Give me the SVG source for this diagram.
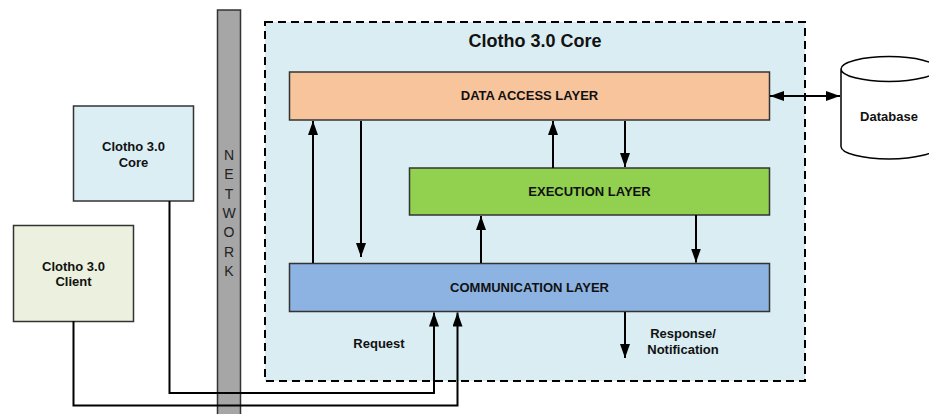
<svg xmlns="http://www.w3.org/2000/svg" width="929" height="414" viewBox="0 0 929 414">
<defs>
<marker id="ah" viewBox="0 0 14 10" refX="14" refY="5" markerWidth="14" markerHeight="10" markerUnits="userSpaceOnUse" orient="auto-start-reverse"><path d="M0,0 L14,5 L0,10 z" fill="#000"/></marker>
<style>
.box{stroke:#333;stroke-width:1.5}
.t{font-family:"Liberation Sans",Arial,sans-serif;font-weight:bold;font-size:13px;fill:#111;text-anchor:middle}
.net{font-family:"Liberation Sans",Arial,sans-serif;font-size:14px;fill:#222;text-anchor:middle}
.c{fill:none;stroke:#000;stroke-width:2}
</style>
</defs>
<rect width="929" height="414" fill="#fff"/>
<g id="network"><rect x="217.5" y="10" width="23" height="410" fill="#a6a6a6" stroke="#333" stroke-width="1.5"/>
<text class="net" x="229" y="160">N</text><text class="net" x="229" y="179.3">E</text><text class="net" x="229" y="198.6">T</text><text class="net" x="229" y="217.9">W</text><text class="net" x="229" y="237.2">O</text><text class="net" x="229" y="256.5">R</text><text class="net" x="229" y="275.8">K</text></g>
<g id="core-container"><rect x="265" y="22" width="540" height="359" fill="#daedf3" stroke="#000" stroke-width="2" stroke-dasharray="8,5"/>
<text class="t" x="535" y="46.5" style="font-size:18px">Clotho 3.0 Core</text></g>
<g id="remote-core"><rect class="box" x="73.5" y="106" width="120" height="95" fill="#dbeef4"/><text class="t" x="133.5" y="150.5">Clotho 3.0</text><text class="t" x="133.5" y="166.5">Core</text></g>
<g id="client"><rect class="box" x="13.5" y="225.5" width="120" height="96" fill="#ebf1de"/><text class="t" x="73.5" y="270.5">Clotho 3.0</text><text class="t" x="73.5" y="286">Client</text></g>
<g id="dal"><rect class="box" x="289.5" y="72" width="480" height="48" fill="#f8c49c"/><text class="t" x="529.5" y="100">DATA ACCESS LAYER</text></g>
<g id="exec"><rect class="box" x="409.5" y="168" width="360" height="47" fill="#92d050"/><text class="t" x="589.5" y="196">EXECUTION LAYER</text></g>
<g id="comm"><rect class="box" x="289.5" y="263.5" width="480" height="48" fill="#8db3e2"/><text class="t" x="529.5" y="292">COMMUNICATION LAYER</text></g>
<g id="database"><path d="M841,69 L841,146.5 A48,12.5 0 0 0 937,146.5 L937,69 A48,12.5 0 0 0 841,69 A48,12.5 0 0 0 937,69" fill="#fff" stroke="#000" stroke-width="1.5"/><text class="t" x="889" y="121">Database</text></g>
<g id="connectors">
<line class="c" x1="313" y1="263" x2="313" y2="121" marker-end="url(#ah)"/>
<line class="c" x1="361" y1="121" x2="361" y2="257" marker-end="url(#ah)"/>
<line class="c" x1="553" y1="168" x2="553" y2="121" marker-end="url(#ah)"/>
<line class="c" x1="625" y1="121" x2="625" y2="167" marker-end="url(#ah)"/>
<line class="c" x1="481" y1="263" x2="481" y2="216" marker-end="url(#ah)"/>
<line class="c" x1="696" y1="215" x2="696" y2="262.5" marker-end="url(#ah)"/>
<line class="c" x1="770" y1="96" x2="840" y2="96" marker-start="url(#ah)" marker-end="url(#ah)"/>
<polyline class="c" points="169.5,201 169.5,393 434,393 434,312.5" marker-end="url(#ah)"/>
<polyline class="c" points="73.5,321 73.5,405.5 457.5,405.5 457.5,312.5" marker-end="url(#ah)"/>
<line class="c" x1="625" y1="312" x2="625" y2="358" marker-end="url(#ah)"/>
<text class="t" x="379" y="347.5">Request</text>
<text class="t" x="683" y="338">Response/</text>
<text class="t" x="683" y="354">Notification</text>
</g>
</svg>
